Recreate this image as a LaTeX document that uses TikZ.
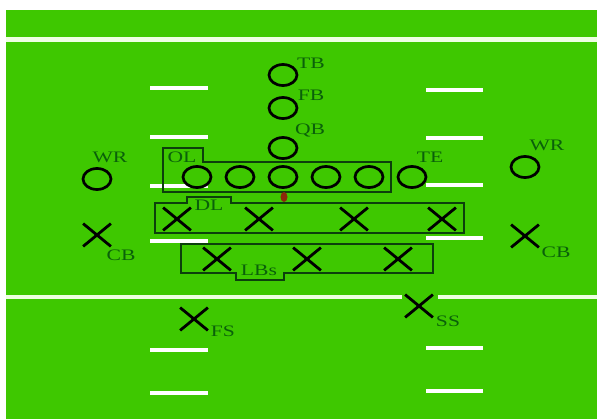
\documentclass[tikz,border=0pt]{standalone}
\usepackage{fontspec}
\setmainfont{Liberation Serif}
\usetikzlibrary{shapes.geometric,shapes.misc}

\definecolor{turf}{RGB}{62,200,0}
\definecolor{chalk}{RGB}{238,255,226}
\definecolor{tagcol}{RGB}{10,96,10}
\definecolor{rimcol}{RGB}{12,64,12}
\definecolor{ballcol}{RGB}{140,40,10}
\newcommand\tagtext[1]{\scalebox{1.35}[1]{#1}}

\begin{document}
\begin{tikzpicture}[x=1pt,y=-1pt,
    offense/.style={ellipse,draw=black,line width=2.7pt,fill=turf,minimum width=28pt,minimum height=21pt,inner sep=0pt},
    defense/.style={cross out,draw=black,line width=2.8pt,minimum width=25pt,minimum height=20pt,inner sep=0pt},
    tag/.style={text=tagcol,font=\fontsize{16}{16}\selectfont,inner sep=0pt},
    hash/.style={white,line width=4pt},
    yardline/.style={chalk,line width=4.5pt},
    unit/.style={draw=rimcol,line width=1.6pt}]

\useasboundingbox (0,0) rectangle (597,419);
\fill[white] (0,0) rectangle (597,419);
\fill[turf] (6,10) rectangle (597,419);

% Yard lines
\draw[yardline] (6,39.5) -- (597,39.5);
\draw[yardline] (6,297) -- (402,297);
\draw[yardline] (438,297) -- (597,297);

% Hash marks
\draw[hash] (150,88) -- (208,88);
\draw[hash] (150,137) -- (208,137);
\draw[hash] (150,186) -- (208,186);
\draw[hash] (150,241) -- (208,241);
\draw[hash] (150,350) -- (208,350);
\draw[hash] (150,393) -- (208,393);
\draw[hash] (426,90) -- (483,90);
\draw[hash] (426,138) -- (483,138);
\draw[hash] (426,185) -- (483,185);
\draw[hash] (426,238) -- (483,238);
\draw[hash] (426,348) -- (483,348);
\draw[hash] (426,391) -- (483,391);

% Unit boxes
\draw[unit] (163,148) -- (203,148) -- (203,162) -- (391,162) -- (391,192) -- (163,192) -- cycle;
\draw[unit] (155,203) -- (187,203) -- (187,197) -- (231,197) -- (231,203) -- (464,203) -- (464,233) -- (155,233) -- cycle;
\draw[unit] (181,244) -- (433,244) -- (433,273) -- (284,273) -- (284,280) -- (236,280) -- (236,273) -- (181,273) -- cycle;
\node[tag] (oltag) at (182,157) {\tagtext{OL}};
\node[tag] (dltag) at (209,205) {\tagtext{DL}};
\node[tag] (lbtag) at (259,270) {\tagtext{LBs}};

% Backfield
\node[offense] (tb) at (283,75) {};
\node[offense] (fb) at (283,108) {};
\node[offense] (qb) at (283,148) {};
\node[tag] (tbtag) at (311,63) {\tagtext{TB}};
\node[tag] (fbtag) at (311,95) {\tagtext{FB}};
\node[tag] (qbtag) at (310,131) {\tagtext{QB}};

% Offensive line
\node[offense] (lt) at (197,177) {};
\node[offense] (lg) at (240,177) {};
\node[offense] (c) at (283,177) {};
\node[offense] (rg) at (326,177) {};
\node[offense] (rt) at (369,177) {};
\node[offense] (te) at (412,177) {};
\node[tag] (tetag) at (430,157) {\tagtext{TE}};
\node[ellipse,fill=ballcol,minimum width=7pt,minimum height=10pt,inner sep=0pt] (ball) at (284,197) {};

% Receivers
\node[offense] (wrl) at (97,179) {};
\node[offense] (wrr) at (525,167) {};
\node[tag] (wrltag) at (110,157) {\tagtext{WR}};
\node[tag] (wrrtag) at (547,145) {\tagtext{WR}};

% Defensive line
\node[defense] (dl1) at (177,219) {};
\node[defense] (dl2) at (259,219) {};
\node[defense] (dl3) at (354,219) {};
\node[defense] (dl4) at (442,219) {};

% Linebackers
\node[defense] (lb1) at (217,259) {};
\node[defense] (lb2) at (307,259) {};
\node[defense] (lb3) at (398,259) {};

% Secondary
\node[defense] (cbl) at (97,235) {};
\node[defense] (cbr) at (525,236) {};
\node[defense] (fs) at (194,319) {};
\node[defense] (ss) at (419,306) {};
\node[tag] (cbltag) at (121,255) {\tagtext{CB}};
\node[tag] (cbrtag) at (556,252) {\tagtext{CB}};
\node[tag] (fstag) at (223,331) {\tagtext{FS}};
\node[tag] (sstag) at (448,321) {\tagtext{SS}};
\end{tikzpicture}
\end{document}
